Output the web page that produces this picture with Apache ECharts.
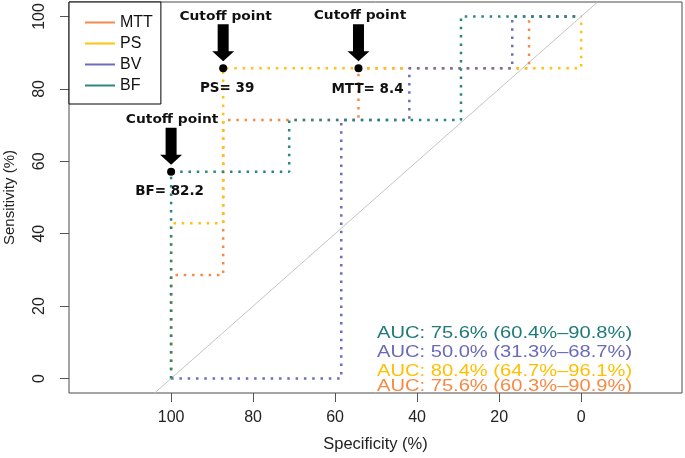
<!DOCTYPE html>
<html><head><meta charset="utf-8">
<script src="https://cdn.jsdelivr.net/npm/echarts@6/dist/echarts.min.js"></script>
<style>html,body{margin:0;padding:0;background:#fff}#c{width:685px;height:458px}</style>
</head><body><div id="c"></div>
<script>
// ---- data ----
const seriesNames = ['MTT', 'PS', 'BV', 'BF'];
const mttSpec = [100, 100, 87.3, 87.3, 54.3, 54.3, 12.7, 12.7, 0];
const mttSens = [0, 28.6, 28.6, 71.4, 71.4, 85.7, 85.7, 100, 100];
const psSpec = [100, 100, 87.3, 87.3, 0, 0];
const psSens = [0, 42.9, 42.9, 85.7, 85.7, 100];
const bvSpec = [100, 58.5, 58.5, 41.9, 41.9, 16.8, 16.8, 0];
const bvSens = [0, 0, 71.4, 71.4, 85.7, 85.7, 100, 100];
const bfSpec = [100, 100, 71.2, 71.2, 29.3, 29.3, 0];
const bfSens = [0, 57.1, 57.1, 71.4, 71.4, 100, 100];
const tickValues = [0, 20, 40, 60, 80, 100];
const aucLabels = ['AUC: 75.6% (60.4%\u201390.8%)', 'AUC: 50.0% (31.3%\u201368.7%)', 'AUC: 80.4% (64.7%\u201396.1%)', 'AUC: 75.6% (60.3%\u201390.9%)'];
const aucSeries = ['BF', 'BV', 'PS', 'MTT'];
const cutoffSpec = [100, 87.3, 54.3];
const cutoffSens = [57.1, 85.7, 85.7];
const cutoffLabels = ['BF= 82.2', 'PS= 39', 'MTT= 8.4'];
const cutoffTitle = 'Cutoff point';
const diagSpec = [104, -4];
const diagSens = [-4, 104];

// ---- styles ----
const colors = { MTT: '#F4894C', PS: '#FFC20E', BV: '#6C6CC0', BF: '#2A8585' };
const aucColors = { MTT: '#F58A45', PS: '#FFBF00', BV: '#6A6AB8', BF: '#1F7A7A' };
const aucY = [333, 352, 371, 386];
const valueDx = [-1.5, 4, 9];
const valueDy = [20, 20, 21];
const titleDx = [1, 2.5, 1.5];
const titleDy = [-52, -51, -52];

const zip = (a, b) => a.map((v, i) => [v, b[i]]);
const curves = { MTT: zip(mttSpec, mttSens), PS: zip(psSpec, psSens), BV: zip(bvSpec, bvSens), BF: zip(bfSpec, bfSens) };

const chart = echarts.init(document.getElementById('c'));
const font = 'Liberation Sans';
const option = {
  animation: false,
  grid: { left: 69, right: 3, top: 2, bottom: 65, show: true, borderColor: '#4a4a4a', borderWidth: 1, outerBoundsMode: 'none' },
  legend: {
    data: seriesNames, orient: 'vertical', left: 69, top: 2,
    padding: [10, 8, 8, 16], itemGap: 0, itemWidth: 30, itemHeight: 2, itemTextGap: 15,
    icon: 'rect', borderColor: '#000', borderWidth: 1, backgroundColor: '#fff',
    textStyle: { fontSize: 16, lineHeight: 21, color: '#111', fontFamily: font },
    selectedMode: false
  },
  xAxis: {
    type: 'value', inverse: true, min: -24.6, max: 124.9,
    splitLine: { show: false }, axisLine: { show: false, onZero: false },
    axisTick: { customValues: tickValues, length: 9, lineStyle: { color: '#555' } },
    axisLabel: { customValues: tickValues, fontSize: 16, color: '#222', margin: 17, fontFamily: font },
    name: 'Specificity (%)', nameLocation: 'middle', nameGap: 43,
    nameTextStyle: { fontSize: 16.5, color: '#222', fontFamily: font }
  },
  yAxis: {
    type: 'value', min: -4, max: 104,
    splitLine: { show: false }, axisLine: { show: false, onZero: false },
    axisTick: { customValues: tickValues, length: 9, lineStyle: { color: '#555' } },
    axisLabel: { customValues: tickValues, rotate: 90, fontSize: 16, color: '#222', margin: 21, fontFamily: font },
    name: 'Sensitivity (%)', nameLocation: 'middle', nameGap: 52, nameRotate: 90,
    nameTextStyle: { fontSize: 15, color: '#222', fontFamily: font }
  },
  series: [
    { name: 'diag', type: 'line', data: zip(diagSpec, diagSens), symbol: 'none', silent: true,
      lineStyle: { color: '#c4c4c4', width: 1 }, z: 1 }
  ].concat(seriesNames.map((n, i) => ({
    name: n, type: 'line', data: curves[n], symbol: 'none', color: colors[n], z: 2 + i,
    lineStyle: { color: colors[n], width: 2.5, type: [2.5, 5.8], cap: 'butt' }
  }))).concat([
    { name: 'arrows', type: 'scatter', data: zip(cutoffSpec, cutoffSens), z: 10,
      symbol: 'path://M5.5,0L16.5,0L16.5,27L22,27L11,37L0,27L5.5,27Z',
      symbolSize: [22, 37], symbolOffset: [0, -25.5], itemStyle: { color: '#000', opacity: 1 } },
    { name: 'cutoffs', type: 'scatter', data: zip(cutoffSpec, cutoffSens), z: 11,
      symbol: 'circle', symbolSize: 8, itemStyle: { color: '#000', opacity: 1 } }
  ])
};
chart.setOption(option);

const graphics = [];
aucLabels.forEach((t, i) => {
  graphics.push({ type: 'text', x: 377, y: aucY[i], scaleX: 1.22, z: 100,
    style: { text: t, fill: aucColors[aucSeries[i]], font: '16.5px "Liberation Sans"', align: 'left', verticalAlign: 'middle' } });
});
cutoffSpec.forEach((s, i) => {
  const p = chart.convertToPixel({ gridIndex: 0 }, [s, cutoffSens[i]]);
  graphics.push({ type: 'text', x: p[0] + titleDx[i], y: p[1] + titleDy[i], scaleX: 1.2, z: 100,
    style: { text: cutoffTitle, fill: '#111', font: 'bold 11.5px "DejaVu Sans"', align: 'center', verticalAlign: 'middle' } });
  graphics.push({ type: 'text', x: p[0] + valueDx[i], y: p[1] + valueDy[i], z: 100,
    style: { text: cutoffLabels[i], fill: '#111', font: 'bold 13.5px "DejaVu Sans"', align: 'center', verticalAlign: 'middle' } });
});
chart.setOption({ graphic: graphics });
</script></body></html>
